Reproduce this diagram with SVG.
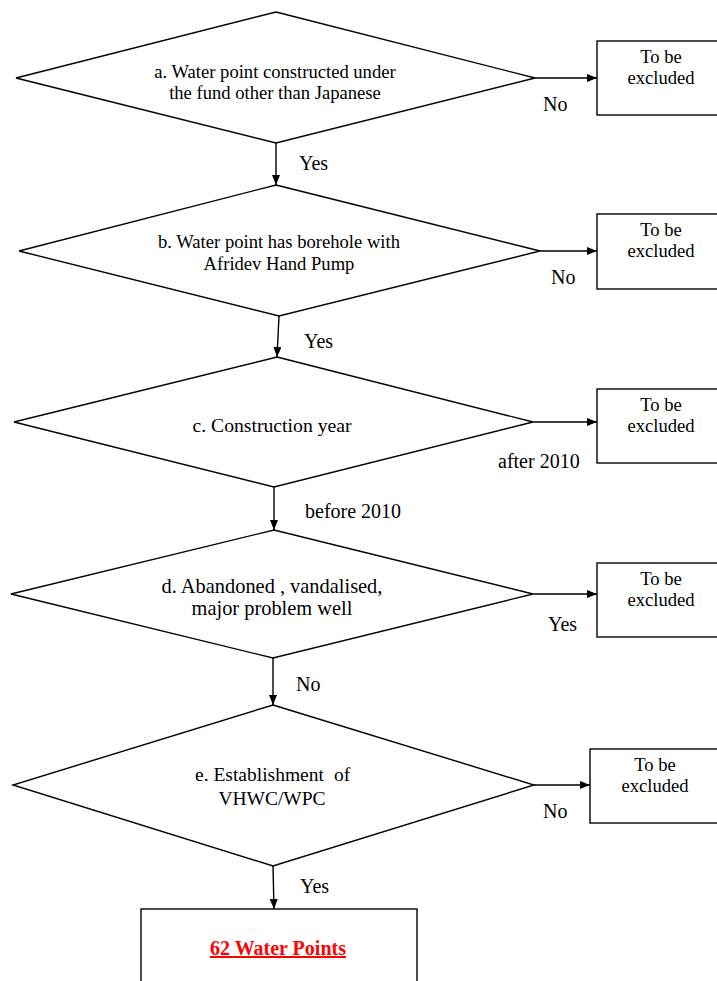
<svg xmlns="http://www.w3.org/2000/svg" width="717" height="981" viewBox="0 0 717 981" font-family="'Liberation Serif', 'DejaVu Serif', 'Times New Roman', serif">
<style>
  .shape { fill: #ffffff; stroke: #000000; stroke-width: 1.4; }
  text { font-family: 'Liberation Serif', 'DejaVu Serif', 'Times New Roman', serif; fill: #000000; }
  .node { text-anchor: middle; font-size: 18.6px; }
  .lbl { font-size: 20px; }
  .conn { stroke: #000000; stroke-width: 1.4; fill: none; marker-end: url(#arr); }
  text.result { font-size: 20px; font-weight: bold; fill: #ff0000; text-anchor: middle; text-decoration: underline; }
</style>
<defs>
  <marker id="arr" markerWidth="10" markerHeight="8" refX="10" refY="4" orient="auto" markerUnits="userSpaceOnUse">
    <path d="M0,0 L10,4 L0,8 Z" fill="#000000"/>
  </marker>
</defs>
<rect width="717" height="981" fill="#ffffff"/>

<g id="a">
  <polygon class="shape" points="276,12 535,78 276,143 16,78"/>
  <text class="node" x="275" y="78">a. Water point constructed under</text>
  <text class="node" x="275" y="99">the fund other than Japanese</text>
</g>
<g id="ex-a">
  <rect class="shape" x="597" y="41" width="128" height="74"/>
  <text class="node" x="661" y="63">To be</text>
  <text class="node" x="661" y="84">excluded</text>
</g>

<g id="b">
  <polygon class="shape" points="276,185 540,251 279,316 19,251"/>
  <text class="node" x="279" y="248">b. Water point has borehole with</text>
  <text class="node" x="279" y="270">Afridev Hand Pump</text>
</g>
<g id="ex-b">
  <rect class="shape" x="597" y="214" width="128" height="75"/>
  <text class="node" x="661" y="236">To be</text>
  <text class="node" x="661" y="257">excluded</text>
</g>

<g id="c">
  <polygon class="shape" points="277,357 533,422 274,487 14,422"/>
  <text class="node" x="272" y="432" style="font-size:19.7px">c. Construction year</text>
</g>
<g id="ex-c">
  <rect class="shape" x="597" y="389" width="128" height="74"/>
  <text class="node" x="661" y="411">To be</text>
  <text class="node" x="661" y="432">excluded</text>
</g>

<g id="d">
  <polygon class="shape" points="274,530 533,594 273,658 11,594"/>
  <text class="node" x="272" y="593" style="font-size:20.4px">d. Abandoned , vandalised,</text>
  <text class="node" x="272" y="615" style="font-size:20.4px">major problem well</text>
</g>
<g id="ex-d">
  <rect class="shape" x="597" y="563" width="128" height="74"/>
  <text class="node" x="661" y="585">To be</text>
  <text class="node" x="661" y="606">excluded</text>
</g>

<g id="e">
  <polygon class="shape" points="273,705 534,785 273,866 13,785"/>
  <text x="195" y="781" style="font-size:19.5px"><tspan>e. Establishment</tspan><tspan x="334">of</tspan></text>
  <text class="node" x="272" y="805" style="font-size:19.5px">VHWC/WPC</text>
</g>
<g id="ex-e">
  <rect class="shape" x="590" y="749" width="128" height="74"/>
  <text class="node" x="655" y="771">To be</text>
  <text class="node" x="655" y="792">excluded</text>
</g>

<g id="result">
  <rect class="shape" x="141" y="909" width="276" height="90"/>
  <text class="result" x="278" y="955">62 Water Points</text>
</g>

<g id="connectors">
  <line class="conn" x1="535" y1="78" x2="597" y2="78"/>
  <line class="conn" x1="276" y1="143" x2="276" y2="185"/>
  <line class="conn" x1="540" y1="251" x2="597" y2="251"/>
  <line class="conn" x1="279" y1="316" x2="277" y2="357"/>
  <line class="conn" x1="533" y1="422" x2="597" y2="422"/>
  <line class="conn" x1="274" y1="487" x2="274" y2="530"/>
  <line class="conn" x1="533" y1="594" x2="597" y2="594"/>
  <line class="conn" x1="273" y1="658" x2="273" y2="705"/>
  <line class="conn" x1="534" y1="785" x2="590" y2="785"/>
  <line class="conn" x1="273" y1="866" x2="274" y2="909"/>
  <text class="lbl" x="543" y="111">No</text>
  <text class="lbl" x="299" y="170">Yes</text>
  <text class="lbl" x="551" y="284">No</text>
  <text class="lbl" x="304" y="348">Yes</text>
  <text class="lbl" x="498" y="468">after 2010</text>
  <text class="lbl" x="305" y="518">before 2010</text>
  <text class="lbl" x="548" y="631">Yes</text>
  <text class="lbl" x="296" y="691">No</text>
  <text class="lbl" x="543" y="818">No</text>
  <text class="lbl" x="300" y="893">Yes</text>
</g>
</svg>
